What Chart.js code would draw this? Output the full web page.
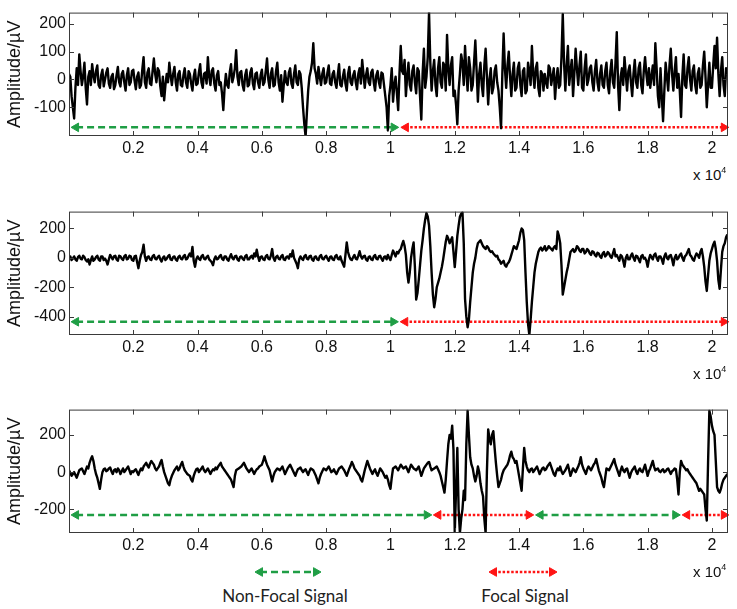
<!DOCTYPE html>
<html>
<head>
<meta charset="utf-8">
<script src="https://cdn.jsdelivr.net/npm/chart.js@4.4.1/dist/chart.umd.min.js"></script>
<style>
  body { margin:0; background:#fff; }
  #wrap { position:relative; width:737px; height:609px; overflow:hidden; background:#fff; }
  #wrap canvas { position:absolute; }
  .exp { position:absolute; left:693px; font-family:"Liberation Sans", Arial, sans-serif; font-size:15px; line-height:17px; color:#111; }
  .exp span { position:relative; top:-7px; font-size:9px; }
  .lab { position:absolute; top:586px; font-family:Lato, "Open Sans", sans-serif; font-size:17px; line-height:20px; color:#222; white-space:nowrap; transform:translateX(-50%); }
</style>
</head>
<body>
<div id="wrap">
  <canvas id="p1" width="737" height="165" style="left:0;top:0"></canvas>
  <canvas id="p2" width="737" height="165" style="left:0;top:199px"></canvas>
  <canvas id="p3" width="737" height="165" style="left:0;top:397px"></canvas>
  <div class="exp" style="top:166px">x 10<span>4</span></div>
  <div class="exp" style="top:365px">x 10<span>4</span></div>
  <div class="exp" style="top:563px">x 10<span>4</span></div>
  <canvas id="legNF" width="80" height="14" style="left:248px;top:565px"></canvas>
  <canvas id="legF" width="82" height="14" style="left:482px;top:565px"></canvas>
  <div class="lab" style="left:285px">Non-Focal Signal</div>
  <div class="lab" style="left:525px">Focal Signal</div>
</div>
<script>
// ---- data ----
const step = 40; // samples between stored points
const xTicks = [2000, 4000, 6000, 8000, 10000, 12000, 14000, 16000, 18000, 20000];
const xTickLabels = ['0.2', '0.4', '0.6', '0.8', '1', '1.2', '1.4', '1.6', '1.8', '2'];

const signal1 = [
  20,10, -60,-100, -140,-30, 40,-20, 90,30, -20,10, 60,-30, -90,10, 30,-20, 55,15,
  -10,30, 50,-20, -30,15, 35,-25, 0,25, 40,-15, -30,10, 20,-35, -20,15, 45,-10,
  -25,20, 30,-10, -40,15, 40,-20, -10,30, 35,-5, -35,10, 25,-30, -20,35, 80,-10,
  -30,25, 40,-15, -20,30, 75,20, -10,40, 30,-25, -60,10, -75,-20, 20,-10, 60,15,
  -20,20, 45,-10, -40,20, 30,-20, -25,15, 40,-10, -30,30, 20,-15, -40,10, 35,-20,
  -15,25, 55,-10, -30,20, 25,-15, 80,10, -20,30, 40,-15, -40,15, 30,-20, -10,-50,
  -110,-30, 20,-20, -30,25, 55,-10, 10,40, 105,10, -20,25, 30,-20, -40,15, 35,-25,
  -20,25, 40,-15, -35,20, 25,-10, -30,15, 35,-20, -10,30, 75,0, -30,20, 40,-25,
  -20,30, 60,-10, -40,15, -80,-20, 30,-10, -20,25, 40,-15, -30,20, 50,-10, -20,30,
  20,-30, -100,-160, -205,-120, -40,10, 30,60, 130,40, 20,-15, 45,10, -20,20, 40,-15,
  -10,25, 50,-15, -20,20, 30,-10, -30,15, 55,-20, -25,10, 35,-15, -40,20, 45,-10,
  -20,15, 30,-10, -35,20, 40,-15, 70,20, -30,15, 40,-10, -20,25, 35,-10, -40,15,
  30,-10, -30,25, 20,-20, -60,-100, -183,-60, -20,40, -80,-20, 10,-50, -110,20, 120,30,
  20,70, -60,10, 60,-20, -40,30, 50,-10, -50,40, 30,-60, -144,20, 110,-30, 10,80,
  240,60, -40,30, 70,-20, -60,40, 80,-10, -30,60, 50,-40, 160,40, -20,50, 80,-60,
  -40,-90, -161,-40, 20,90, 60,-20, 120,30, -40,80, 40,-40, -20,60, 140,30, -80,20,
  60,-20, -60,50, 110,10, -90,0, 40,-50, -30,30, 50,-10, -40,-100, -175,20, 165,40,
  -30,50, 100,10, -60,20, 60,-40, -30,40, 60,-20, -60,30, 40,-50, -40,60, 30,-20,
  120,20, -30,40, 60,-30, -60,30, 20,-40, 20,-10, -30,50, 40,-20, 10,40, -70,0,
  40,-30, -20,80, 235,60, -40,50, 120,-20, 30,70, -60,20, 110,40, -20,50, 100,-30,
  -40,40, 90,-20, 0,40, 50,-10, -40,30, 70,-10, -40,20, 50,-20, -30,30, 60,-20,
  -50,30, 70,-10, -30,60, 170,-20, -110,10, 40,-20, 80,20, -40,30, 50,-10, -60,20,
  70,-10, -30,40, 60,-20, -50,30, 80,20, -20,40, -30,10, 50,-20, 130,40, -60,-100,
  40,-60, -150,-40, 60,10, -40,50, 110,20, -40,30, 80,-30, 20,-40, -135,10, 90,-20,
  -30,40, 80,0, -40,30, 50,-20, -50,20, 40,-30, -20,50, 100,10, -100,-20, 60,-30,
  -30,50, 120,40, 150,20, -60,30, 80,-20, -60,40, 20
];
const signal2 = [
  0,10, -15,-5, 10,-10, -20,5, 15,-5, -10,15, 5,-15, -25,-10, -45,-15, 10,-20,
  -10,5, 15,-10, -20,10, 10,-15, -5,-20, -45,-10, 20,5, -10,10, 15,-10, -20,15,
  10,-5, -15,10, 20,-10, -5,15, 10,-15, -20,10, 15,-30, -70,-20, 20,40, 90,10,
  -20,5, 10,-10, -15,10, 20,-5, -10,5, 15,-10, -25,0, 10,-15, -5,10, 20,-10,
  -15,5, 10,-10, -20,5, 15,-5, -10,10, 20,-10, -5,15, 30,10, 75,-20, -60,-10,
  10,-5, -15,10, 20,-5, -10,5, 15,-10, -20,-30, -50,-10, 10,-10, -5,10, 20,-5,
  -15,10, 10,-10, -20,5, 25,0, -10,10, 15,-10, -20,5, 10,-5, -15,10, 20,-10,
  -10,5, 15,-5, 30,10, 55,10, -20,5, 10,-10, -15,10, 20,-5, -10,15, 60,0,
  -20,5, 15,-5, -10,10, 20,-10, -15,5, 10,-5, 25,10, 50,0, -20,-40, -70,-10,
  10,-5, -15,10, 20,-5, -10,10, 15,-10, -20,5, 10,-10, -15,10, 20,-5, -10,5,
  15,-5, -20,5, 10,-10, -15,10, 20,-5, -10,10, -20,-40, -60,20, 105,40, 10,-10,
  -15,5, 20,-5, -10,15, 45,10, -5,10, 15,-10, -20,5, 10,-10, -15,10, 20,-5,
  -10,10, 15,-5, -20,5, 10,-10, 20,0, -15,20, 50,30, 10,40, 30,50, 60,90,
  115,80, 20,-100, -168,-100, 0,60, 105,-60, -284,-240, -150,-50, 50,120, 200,260, 305,280,
  220,80, -100,-250, -336,-280, -200,-170, -140,-100, -60,-10, 50,110, 150,130, 100,120, 140,40,
  -63,40, 150,220, 280,300, 310,100, -280,-400, -472,-420, -300,-200, -100,-40, 0,60, 100,110,
  120,100, 80,70, 60,80, 70,50, 40,45, 30,20, 10,15, -10,-20, -40,-30, -20,-50,
  -60,-40, -30,-10, 20,50, 80,70, 60,90, 120,170, 200,190, 120,-100, -300,-450, -525,-420,
  -300,-200, -100,-40, 0,40, 60,70, 50,60, 80,50, 60,80, 70,60, 50,70, 80,60,
  180,150, 100,-50, -250,-200, -150,-100, -60,-10, 40,50, 60,40, 50,80, 70,50, 40,60,
  60,30, 40,60, 50,30, 20,45, 40,20, 10,35, 30,10, 0,30, 40,10, 20,40,
  30,10, 0,30, 60,10, 20,0, -20,20, 10,-20, -60,0, 20,-10, -10,15, 30,0,
  -20,15, 10,-10, -30,10, 20,-5, 0,-20, -60,-10, 20,5, -10,20, 30,0, -20,10,
  10,-10, -40,10, 30,0, -10,15, 20,-10, -50,0, 20,-10, 0,20, 30,0, -20,10,
  20,40, 60,20, 10,-10, -20,10, 30,20, 0,40, 60,10, -60,-160, -225,-120, -20,30,
  60,90, 110,60, -20,-150, -210,-80, 40,80, 100,140, 160
];
const signal3 = [
  10,-5, -20,-10, 0,-15, -30,-10, 10,15, 20,5, -10,10, 30,20, 50,70, 85,60,
  20,-10, -30,-60, -90,-40, 0,15, 20,5, 10,20, 25,5, -10,10, 15,0, 20,10,
  -10,5, 20,0, 10,20, 30,10, -10,5, 0,10, 15,0, -15,5, 20,10, 30,40,
  50,35, 25,45, 60,50, 40,20, 10,20, 30,50, 65,30, 0,-20, -40,-60, -70,-40,
  -20,-5, 10,20, 30,10, 20,40, 55,30, 10,0, -10,-15, -20,-40, -50,-20, 0,15,
  20,0, 10,20, 30,10, 0,10, 20,5, -10,5, 15,10, 25,15, 30,40, 50,30,
  20,10, 0,-10, -20,-30, -40,-60, -80,-20, 10,15, 20,25, 30,40, 50,35, 20,10,
  0,10, 20,5, -10,5, 15,20, 30,35, 40,60, 85,60, 40,25, 10,-20, -50,-20,
  0,10, 20,15, 10,20, 30,10, -10,5, 20,30, 40,25, 10,-5, -20,0, 15,20,
  25,10, 0,10, 15,0, -15,5, 20,15, 10,-5, -20,-40, -60,-30, -10,5, 20,15,
  10,20, 30,15, 0,5, 15,0, -10,5, 20,25, 30,20, 10,-5, -20,0, 20,35,
  55,40, 20,10, 0,-10, -20,-40, -50,-20, 10,35, 60,40, 20,5, -10,5, 15,-5,
  -20,0, 20,10, 0,-15, -30,-20, -40,-70, -90,-30, 20,25, 30,20, 10,25, 40,30,
  20,25, 30,15, 0,20, 40,30, 20,15, 10,20, 30,5, -20,0, 20,30, 40,50,
  55,30, 10,15, 20,25, 30,15, 0,-20, -50,-80, -110,-40, 60,150, 200,180, 250,120,
  -327,-100, 130,-200, -327,-250, -200,-100, -150,150, 330,200, 80,40, 20,-20, -50,-20, 30,0,
  -60,-100, -130,-250, -327,0, 230,180, 150,200, 220,130, 50,-20, -80,-60, -40,-10, 10,20,
  30,40, 60,90, 110,80, 70,50, 60,20, -20,-60, -100,20, 130,60, 30,10, 0,15,
  20,0, 10,20, 30,10, -10,5, 20,25, 10,15, 30,40, 50,30, 10,-10, -20,5,
  20,10, 30,5, -10,0, 10,25, 40,10, -20,0, 20,10, 0,15, 30,50, 80,40,
  20,5, -10,15, 30,20, 10,25, 40,50, 70,40, 10,-10, -30,-60, -80,-30, 20,15,
  10,25, 40,55, 70,40, 20,0, -20,10, 30,10, 0,15, 20,-5, -30,-5, 10,20,
  30,5, -10,10, 20,5, 0,20, 40,10, -20,5, 20,40, 60,30, 10,15, 20,5,
  0,10, 15,0, 5,15, 20,5, -10,5, 10,20, 15,-40, -120,0, 60,40, 30,20,
  10,15, 0,-10, -20,-30, -40,-50, -60,-80, -100,-90, -100,-110, -120,-200, -260,50, 330,300,
  250,220, 200,60, -80,-100, -110,-90, -60,-40, -30,-20, -10
];

const yTicks1 = [-100, 0, 100, 200];
const yTicks2 = [-400, -200, 0, 200];
const yTicks3 = [-200, 0, 200];
const yRange1 = [-203, 240];
const yRange2 = [-525, 315];
const yRange3 = [-327, 336];

// non-focal / focal stretches (sample index), drawn as arrows at a fixed amplitude
const segments1 = [['nonfocal', 220, 10100], ['focal', 10480, 20370]];
const segments2 = [['nonfocal', 220, 10090], ['focal', 10460, 20370]];
const segments3 = [['nonfocal', 220, 11130], ['focal', 11490, 14300], ['nonfocal', 14670, 18860], ['focal', 19230, 20370]];
const arrowLevel1 = -172;
const arrowLevel2 = -435;
const arrowLevel3 = -230;

// ---- styles ----
const segStyle = {
  nonfocal: { color: '#1f9e45', dash: [7, 4] },
  focal: { color: '#ff1414', dash: [2.5, 1.8] }
};
const axisColor = '#3a3a3a';
const labelFont = { family: '"Liberation Sans", Arial, sans-serif', size: 16 };

// box round the plot + inward tick marks on all four sides (matlab look)
const boxPlugin = {
  id: 'box',
  afterDraw(chart) {
    const { ctx, chartArea: a } = chart;
    const x = chart.scales.x, y = chart.scales.y;
    ctx.save();
    ctx.strokeStyle = axisColor;
    ctx.lineWidth = 1;
    ctx.strokeRect(a.left + 0.5, a.top + 0.5, a.right - a.left - 1, a.bottom - a.top - 1);
    ctx.beginPath();
    x.ticks.forEach(t => {
      const px = Math.round(x.getPixelForValue(t.value)) + 0.5;
      ctx.moveTo(px, a.bottom); ctx.lineTo(px, a.bottom - 5);
      ctx.moveTo(px, a.top); ctx.lineTo(px, a.top + 5);
    });
    y.ticks.forEach(t => {
      const py = Math.round(y.getPixelForValue(t.value)) + 0.5;
      ctx.moveTo(a.left, py); ctx.lineTo(a.left + 5, py);
      ctx.moveTo(a.right, py); ctx.lineTo(a.right - 5, py);
    });
    ctx.stroke();
    ctx.restore();
  }
};

function arrowDataset(type, from, to, level) {
  const st = segStyle[type];
  return {
    data: [{ x: from, y: level }, { x: to, y: level }],
    borderColor: st.color,
    backgroundColor: st.color,
    borderWidth: 2.5,
    borderDash: st.dash,
    borderCapStyle: 'butt',
    pointStyle: 'triangle',
    pointRadius: 5,
    pointBorderWidth: 1,
    pointBorderColor: st.color,
    pointBackgroundColor: st.color,
    pointRotation: ctx => (ctx.dataIndex === 0 ? 270 : 90),
    clip: false,
    order: 1
  };
}

function makePanel(id, values, yTicks, yRange, segments, level) {
  const datasets = [{
    data: values.map((v, i) => ({ x: i * step, y: v })),
    borderColor: '#000',
    borderWidth: 2.4,
    borderJoinStyle: 'round',
    pointRadius: 0,
    clip: 0,
    order: 0
  }];
  segments.forEach(s => datasets.push(arrowDataset(s[0], s[1], s[2], level)));

  new Chart(document.getElementById(id), {
    type: 'line',
    data: { datasets },
    plugins: [boxPlugin],
    options: {
      responsive: false,
      animation: false,
      layout: { padding: { top: 3, right: 9, left: 0, bottom: 0 } },
      plugins: { legend: { display: false }, tooltip: { enabled: false } },
      scales: {
        x: {
          type: 'linear',
          min: 0,
          max: 20500,
          afterFit: s => { s.height = 29; },
          afterBuildTicks: s => { s.ticks = xTicks.map(v => ({ value: v })); },
          ticks: {
            callback: v => xTickLabels[xTicks.indexOf(v)],
            font: labelFont, color: '#111', padding: 3, maxRotation: 0, autoSkip: false
          },
          grid: { display: false, drawTicks: false },
          border: { display: false }
        },
        y: {
          min: yRange[0],
          max: yRange[1],
          afterFit: s => { s.width = 69; },
          afterBuildTicks: s => { s.ticks = yTicks.map(v => ({ value: v })); },
          ticks: { font: labelFont, color: '#111', padding: 3 },
          grid: { display: false, drawTicks: false },
          border: { display: false },
          title: {
            display: true,
            text: 'Amplitude/\u00b5V',
            font: { family: '"Liberation Sans", Arial, sans-serif', size: 18 },
            color: '#111',
            padding: { top: 4, bottom: 0 }
          }
        }
      }
    }
  });
}

makePanel('p1', signal1, yTicks1, yRange1, segments1, arrowLevel1);
makePanel('p2', signal2, yTicks2, yRange2, segments2, arrowLevel2);
makePanel('p3', signal3, yTicks3, yRange3, segments3, arrowLevel3);

// legend glyphs: one arrow each, on a unit scale
function makeLegendArrow(id, type) {
  new Chart(document.getElementById(id), {
    type: 'line',
    data: { datasets: [arrowDataset(type, 0, 1, 0)] },
    options: {
      responsive: false,
      animation: false,
      layout: { padding: { left: 12, right: 12, top: 0, bottom: 0 } },
      plugins: { legend: { display: false }, tooltip: { enabled: false } },
      scales: {
        x: { type: 'linear', min: 0, max: 1, display: false },
        y: { min: -1, max: 1, display: false }
      }
    }
  });
}
makeLegendArrow('legNF', 'nonfocal');
makeLegendArrow('legF', 'focal');
</script>
</body>
</html>
